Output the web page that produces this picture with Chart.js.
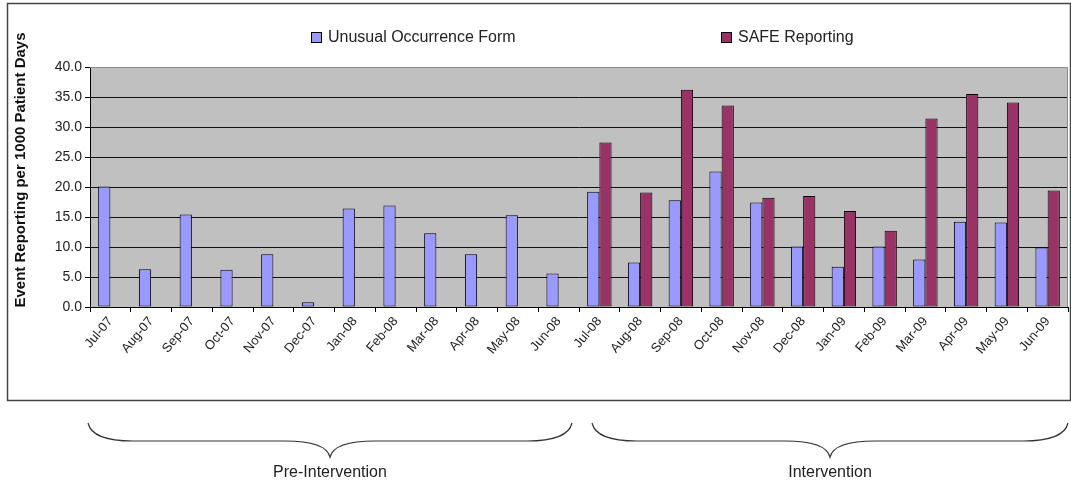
<!DOCTYPE html>
<html lang="en">
<head>
    <meta charset="UTF-8">
    <title>Event Reporting per 1000 Patient Days</title>
    <script src="https://cdn.jsdelivr.net/npm/chart.js"></script>
    <style>
        body {
            margin: 0;
            background-color: white;
        }
        .chart-container {
            position: relative;
            width: 1071px;
            height: 482px;
        }
    </style>
</head>
<body>
    <div class="chart-container">
        <canvas id="myChart"></canvas>
    </div>

    <script>
        // Months on the x axis
        const months = ['Jul-07', 'Aug-07', 'Sep-07', 'Oct-07', 'Nov-07', 'Dec-07',
                        'Jan-08', 'Feb-08', 'Mar-08', 'Apr-08', 'May-08', 'Jun-08',
                        'Jul-08', 'Aug-08', 'Sep-08', 'Oct-08', 'Nov-08', 'Dec-08',
                        'Jan-09', 'Feb-09', 'Mar-09', 'Apr-09', 'May-09', 'Jun-09'];

        // Unusual Occurrence Form rates
        const uofRates = [20.1, 6.3, 15.4, 6.2, 8.8, 0.8, 16.4, 16.9, 12.3, 8.8, 15.3, 5.6,
                          19.2, 7.4, 17.8, 22.6, 17.4, 10.1, 6.7, 10.1, 7.9, 14.2, 14.1, 9.9];

        // SAFE Reporting rates (only during the intervention)
        const safeRates = [null, null, null, null, null, null, null, null, null, null, null, null,
                           27.4, 19.1, 36.2, 33.6, 18.2, 18.5, 16.0, 12.7, 31.4, 35.5, 34.1, 19.4];

        const yTickValues = [0, 5, 10, 15, 20, 25, 30, 35, 40];

        const seriesNames = ['Unusual Occurrence Form', 'SAFE Reporting'];
        const seriesColors = ['#9999ff', '#993366'];
        const periodNames = ['Pre-Intervention', 'Intervention'];

        const yTitle = 'Event Reporting per 1000 Patient Days';

        Chart.defaults.font.family = '"Liberation Sans", Arial, sans-serif';
        Chart.defaults.color = '#222';

        // background, frame, legend, axis title and the braces below the chart
        const decor = {
            id: 'decor',
            beforeDraw(chart) {
                const { ctx, chartArea: a } = chart;
                ctx.save();
                ctx.fillStyle = '#fff';
                ctx.fillRect(0, 0, chart.width, chart.height);
                ctx.strokeStyle = '#444';
                ctx.lineWidth = 1.5;
                ctx.strokeRect(7.5, 3.5, 1063, 397);
                ctx.fillStyle = '#c0c0c0';
                ctx.fillRect(a.left, a.top, a.right - a.left, a.bottom - a.top);
                ctx.restore();
            },
            beforeDatasetsDraw(chart) {
                const { ctx, chartArea: a } = chart;
                ctx.save();
                ctx.strokeStyle = '#8a8a8a';
                ctx.lineWidth = 1;
                ctx.beginPath();
                ctx.moveTo(a.left, a.top + 0.5);
                ctx.lineTo(a.right - 0.5, a.top + 0.5);
                ctx.lineTo(a.right - 0.5, a.bottom);
                ctx.stroke();
                ctx.restore();
            },
            afterDraw(chart) {
                const ctx = chart.ctx;
                ctx.save();

                // legend
                const legendX = [311, 721];
                ctx.font = '16px "Liberation Sans", Arial, sans-serif';
                ctx.textBaseline = 'middle';
                chart.data.datasets.forEach((ds, i) => {
                    ctx.fillStyle = ds.backgroundColor;
                    ctx.fillRect(legendX[i] + 0.5, 32.5, 10, 10);
                    ctx.strokeStyle = '#000';
                    ctx.lineWidth = 1;
                    ctx.strokeRect(legendX[i] + 0.5, 32.5, 10, 10);
                    ctx.fillStyle = '#222';
                    ctx.fillText(ds.label, legendX[i] + 17, 38);
                });

                // y axis title
                ctx.save();
                ctx.translate(21, 170);
                ctx.rotate(-Math.PI / 2);
                ctx.font = 'bold 15px "Liberation Sans", Arial, sans-serif';
                ctx.textAlign = 'center';
                ctx.fillStyle = '#111';
                ctx.fillText(yTitle, 0, 0);
                ctx.restore();

                // braces
                const braces = [[88, 572], [592, 1068]];
                ctx.strokeStyle = '#333';
                ctx.lineWidth = 1.2;
                braces.forEach(([x1, x2], i) => {
                    const xm = (x1 + x2) / 2;
                    const yTop = 423, yMid = 441, yTip = 457;
                    ctx.beginPath();
                    ctx.moveTo(x1, yTop);
                    ctx.quadraticCurveTo(x1 + 4, yMid, x1 + 45, yMid);
                    ctx.lineTo(xm - 45, yMid);
                    ctx.quadraticCurveTo(xm - 4, yMid, xm, yTip);
                    ctx.quadraticCurveTo(xm + 4, yMid, xm + 45, yMid);
                    ctx.lineTo(x2 - 45, yMid);
                    ctx.quadraticCurveTo(x2 - 4, yMid, x2, yTop);
                    ctx.stroke();

                    ctx.font = '16px "Liberation Sans Narrow", "Liberation Sans", Arial, sans-serif';
                    ctx.textAlign = 'center';
                    ctx.fillStyle = '#222';
                    ctx.fillText(periodNames[i], xm, 473);
                });

                ctx.restore();
            }
        };

        const ctx = document.getElementById('myChart').getContext('2d');

        new Chart(ctx, {
            type: 'bar',
            data: {
                labels: months,
                datasets: [{
                    label: seriesNames[0],
                    data: uofRates,
                    backgroundColor: seriesColors[0],
                    borderColor: '#000',
                    borderWidth: 1,
                    borderSkipped: false
                }, {
                    label: seriesNames[1],
                    data: safeRates,
                    backgroundColor: seriesColors[1],
                    borderColor: '#000',
                    borderWidth: 1,
                    borderSkipped: false
                }]
            },
            options: {
                responsive: true,
                maintainAspectRatio: false,
                animation: false,
                categoryPercentage: 0.6,
                barPercentage: 1.0,
                layout: {
                    padding: { left: 8, right: 3, top: 67, bottom: 115 }
                },
                scales: {
                    x: {
                        afterFit: s => { s.height = 60; },
                        grid: {
                            display: true,
                            offset: true,
                            drawOnChartArea: false,
                            drawTicks: true,
                            tickLength: 5,
                            tickColor: '#000'
                        },
                        border: { color: '#000', width: 1 },
                        ticks: {
                            autoSkip: false,
                            maxRotation: 50,
                            minRotation: 50,
                            padding: 2,
                            color: '#222',
                            font: { size: 13 }
                        }
                    },
                    y: {
                        min: 0,
                        max: 40,
                        afterFit: s => { s.width = 82; },
                        afterBuildTicks: s => { s.ticks = yTickValues.map(v => ({ value: v })); },
                        grid: {
                            color: c => (c.tick && c.tick.value === 40) ? 'rgba(0,0,0,0)' : '#111',
                            lineWidth: 1,
                            drawTicks: true,
                            tickLength: 5,
                            tickColor: '#000'
                        },
                        border: { color: '#000', width: 1 },
                        ticks: {
                            padding: 3,
                            color: '#222',
                            font: { size: 14 },
                            callback: v => Number(v).toFixed(1)
                        }
                    }
                },
                plugins: {
                    legend: { display: false },
                    tooltip: { enabled: false }
                }
            },
            plugins: [decor]
        });
    </script>
</body>
</html>
